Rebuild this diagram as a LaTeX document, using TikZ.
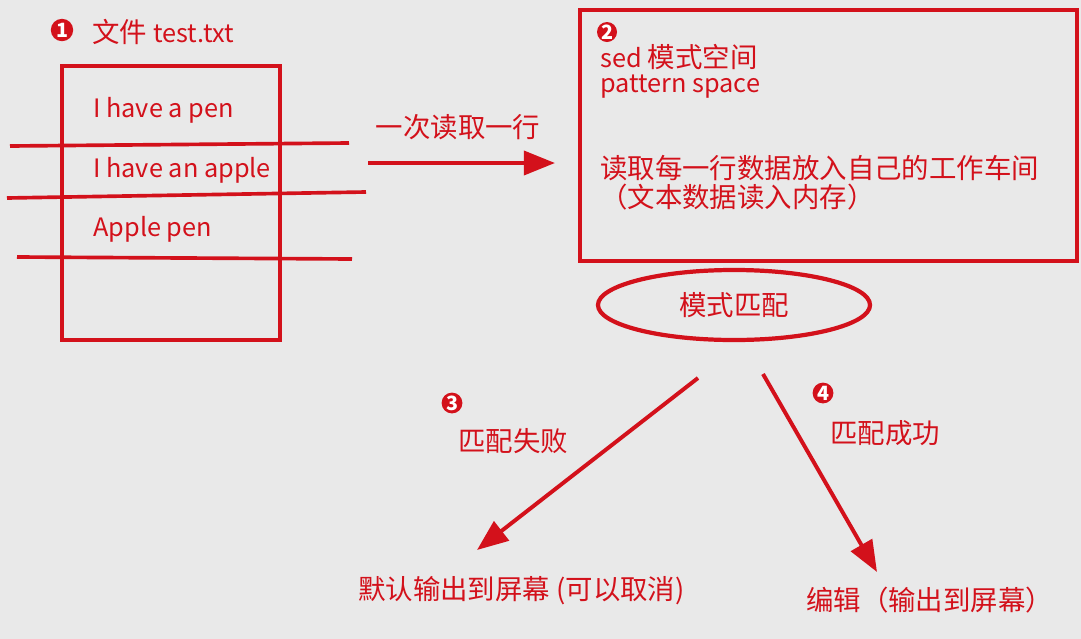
\documentclass[tikz,border=0pt]{standalone}
\usepackage{fontspec}
\setmainfont{Noto Sans CJK SC}
\usepackage{xcolor}
\usetikzlibrary{arrows.meta, positioning, shapes.geometric}
\definecolor{pen}{HTML}{D3111B}
\definecolor{paper}{HTML}{E9E9E9}
\newcommand{\latsize}{\fontsize{18}{22}\selectfont}

\begin{document}
\begin{tikzpicture}[x=0.025cm, y=-0.025cm]
  \tikzset{
    txt/.style={text=pen, font=\fontsize{19.5}{23}\selectfont, inner sep=0pt, anchor=west},
    lat/.style={txt, font=\latsize},
    num/.style={circle, fill=pen, text=white, inner sep=0pt, minimum size=0.56cm,
                font=\bfseries\fontsize{14}{14}\selectfont},
    redbox/.style={rectangle, draw=pen, line width=3pt},
    rule/.style={draw=pen, line width=2.6pt},
    arr/.style={-{Triangle[length=0.78cm, width=0.6cm]}, draw=pen, line width=2.8pt}
  }
  \fill[paper] (0,0) rectangle (1081,639);
  \useasboundingbox (0,0) rectangle (1081,639);

  % the file
  \node[num] (n1) at (62,30) {1};
  \node[txt] (fname) at (92,32) {文件 {\latsize test.txt}};
  \node[redbox, minimum width=5.45cm, minimum height=6.85cm] (file) at (171,203) {};
  \node[lat] (l1) at (93,110) {I have a pen};
  \node[lat] (l2) at (93,170) {I have an apple};
  \node[lat] (l3) at (93,229) {Apple pen};
  \draw[rule] (10,146) -- (349,143);
  \draw[rule] (7,198) -- (366,192);
  \draw[rule] (17,257) -- (352,259);

  % pattern space
  \node[redbox, minimum width=12.42cm, minimum height=6.27cm] (space) at (828.5,135.5) {};
  \node[num, minimum size=0.5cm] (n2) at (607,32) {2};
  \node[txt] (sed) at (600,57) {{\latsize sed} 模式空间};
  \node[lat] (ps) at (600,87) {pattern space};
  \node[txt] (rd) at (600,168) {读取每一行数据放入自己的工作车间};
  \node[txt] (mem) at (600,197) {（文本数据读入内存）};

  \coordinate (rd0) at (368,163);
  \coordinate (rd1) at (555,163);
  \draw[arr] (rd0) -- (rd1);
  \node[txt, anchor=center] (once) at (458,127) {一次读取一行};

  % matching
  \node[ellipse, draw=pen, line width=3pt, minimum width=6.8cm, minimum height=1.75cm,
        text=pen, font=\fontsize{19.5}{23}\selectfont] (match) at (734,305) {模式匹配};

  \coordinate (f0) at (698,378);
  \coordinate (f1) at (477,550);
  \coordinate (s0) at (763,374);
  \coordinate (s1) at (877,572);
  \draw[arr] (f0) -- (f1);
  \draw[arr] (s0) -- (s1);

  \node[num, minimum size=0.52cm] (n3) at (452,403) {3};
  \node[txt] (fail) at (458,441) {匹配失败};
  \node[num, minimum size=0.52cm] (n4) at (823,393) {4};
  \node[txt] (ok) at (830,433) {匹配成功};

  \node[txt] (out) at (358,591) {默认输出到屏幕 (可以取消)};
  \node[txt] (edit) at (806,600) {编辑（输出到屏幕）};
\end{tikzpicture}
\end{document}
